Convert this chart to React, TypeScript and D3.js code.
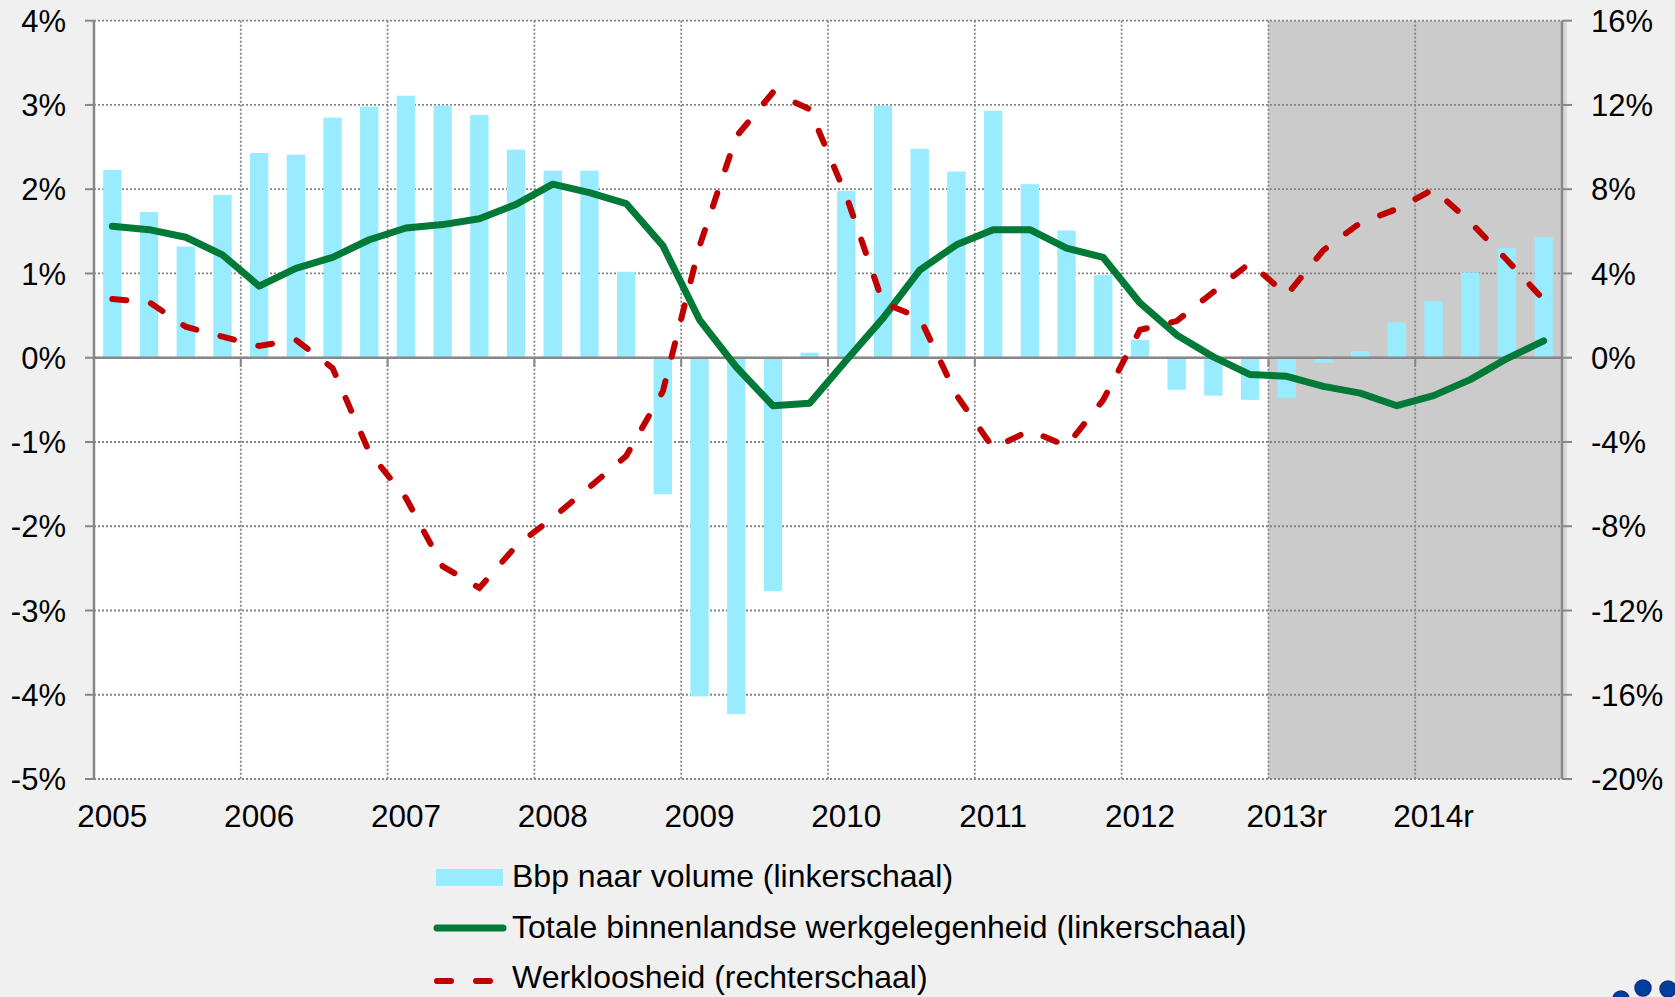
import React from "react";
import * as d3 from "d3";

const years = ["2005", "2006", "2007", "2008", "2009", "2010", "2011", "2012", "2013", "2014"];
const yearLabels = ["2005", "2006", "2007", "2008", "2009", "2010", "2011", "2012", "2013r", "2014r"];
const quarters = years.flatMap((y) => ["K1", "K2", "K3", "K4"].map((q) => `${y} ${q}`));

// Bbp naar volume (linkerschaal), % j-o-j
const bbp = [
  2.23, 1.73, 1.32, 1.93,
  2.43, 2.41, 2.85, 2.98,
  3.11, 2.99, 2.88, 2.47,
  2.22, 2.22, 1.02, -1.62,
  -4.02, -4.23, -2.77, 0.06,
  1.98, 2.99, 2.48, 2.21,
  2.93, 2.06, 1.51, 0.98,
  0.21, -0.38, -0.45, -0.5,
  -0.48, -0.06, 0.08, 0.42,
  0.67, 1.01, 1.3, 1.43,
];

// Totale binnenlandse werkgelegenheid (linkerschaal)
const werkgelegenheid = [
  1.56, 1.52, 1.43, 1.22,
  0.85, 1.06, 1.19, 1.4,
  1.54, 1.58, 1.65, 1.82,
  2.06, 1.96, 1.83, 1.33,
  0.45, -0.11, -0.57, -0.54,
  -0.03, 0.47, 1.04, 1.34,
  1.52, 1.52, 1.3, 1.19,
  0.65, 0.27, 0.01, -0.2,
  -0.22, -0.34, -0.42, -0.57,
  -0.45, -0.26, -0.01, 0.2,
];

// Werkloosheid (rechterschaal)
const werkloosheid = [
  2.79, 2.64, 1.47, 1.0,
  0.56, 0.85, -0.49, -4.48,
  -6.66, -9.9, -10.93, -8.94,
  -7.6, -6.14, -4.67, -1.6,
  5.3, 10.5, 12.6, 11.8,
  7.67, 2.6, 1.9, -1.77,
  -4.29, -3.46, -4.19, -2.0,
  1.32, 1.74, 3.12, 4.5,
  2.98, 5.11, 6.4, 7.06,
  8.0, 6.44, 4.64, 2.75,
];

const leftTicks = [-5, -4, -3, -2, -1, 0, 1, 2, 3, 4];
const rightTicks = [-20, -16, -12, -8, -4, 0, 4, 8, 12, 16];
const forecastYears = ["2013", "2014"];

const legendItems = [
  "Bbp naar volume (linkerschaal)",
  "Totale binnenlandse werkgelegenheid (linkerschaal)",
  "Werkloosheid (rechterschaal)",
];

const App = () => {
  const width = 1675;
  const height = 997;
  const plot = { left: 94, right: 1562, top: 20.7, bottom: 779 };
  const font = "'Liberation Sans', Arial, sans-serif";
  const gridColor = "#858585";
  const axisColor = "#878787";

  const x = d3.scaleBand().domain(quarters).range([plot.left, plot.right]).padding(0);
  const cx = (q) => x(q) + x.bandwidth() / 2;
  const yLeft = d3.scaleLinear().domain([-5, 4]).range([plot.bottom, plot.top]);
  const yRight = d3.scaleLinear().domain([-20, 16]).range([plot.bottom, plot.top]);

  const barWidth = x.bandwidth() * 0.5;
  const greenLine = d3
    .line()
    .x((d, i) => cx(quarters[i]))
    .y((d) => yLeft(d));
  const redLine = d3
    .line()
    .x((d, i) => cx(quarters[i]))
    .y((d) => yRight(d));

  const yearStart = (y) => x(`${y} K1`);
  const shadeStart = yearStart(forecastYears[0]);

  return (
    <svg
      width={width}
      height={height}
      style={{ position: "absolute", left: 0, top: 0 }}
      fontFamily={font}
    >
      <rect x={0} y={0} width={width} height={height} fill="#f0f0f0" />
      <rect
        x={plot.left}
        y={plot.top}
        width={plot.right - plot.left}
        height={plot.bottom - plot.top}
        fill="#ffffff"
      />
      {/* prognose periode */}
      <rect
        x={shadeStart}
        y={plot.top}
        width={plot.right - shadeStart}
        height={plot.bottom - plot.top}
        fill="#cbcbcb"
      />
      <rect x={plot.right} y={plot.top} width={5} height={plot.bottom - plot.top} fill="#d9d9d9" />

      {/* gridlines */}
      {leftTicks.map((t) => (
        <line
          key={`h${t}`}
          x1={plot.left}
          x2={plot.right}
          y1={yLeft(t)}
          y2={yLeft(t)}
          stroke={gridColor}
          strokeWidth={1.8}
          strokeDasharray="2 2"
        />
      ))}
      {years.slice(1).map((y) => (
        <line
          key={`v${y}`}
          x1={yearStart(y)}
          x2={yearStart(y)}
          y1={plot.top}
          y2={plot.bottom}
          stroke={gridColor}
          strokeWidth={1.8}
          strokeDasharray="2 2"
        />
      ))}

      {/* bars */}
      {bbp.map((v, i) => (
        <rect
          key={quarters[i]}
          x={cx(quarters[i]) - barWidth / 2}
          y={Math.min(yLeft(v), yLeft(0))}
          width={barWidth}
          height={Math.abs(yLeft(v) - yLeft(0))}
          fill="#99ebff"
        />
      ))}

      {/* category axis at 0 */}
      <line x1={plot.left} x2={plot.right} y1={yLeft(0)} y2={yLeft(0)} stroke={axisColor} strokeWidth={2.5} />
      {years.map((y) => (
        <line
          key={`t${y}`}
          x1={yearStart(y)}
          x2={yearStart(y)}
          y1={yLeft(0)}
          y2={yLeft(0) + 9}
          stroke={axisColor}
          strokeWidth={2}
        />
      ))}

      {/* left axis */}
      <line x1={plot.left} x2={plot.left} y1={plot.top} y2={plot.bottom} stroke={axisColor} strokeWidth={2.5} />
      {leftTicks.map((t) => (
        <g key={`l${t}`}>
          <line x1={plot.left - 9} x2={plot.left} y1={yLeft(t)} y2={yLeft(t)} stroke={axisColor} strokeWidth={2} />
          <text x={66} y={yLeft(t)} dy="0.36em" textAnchor="end" fontSize={31} fill="#000">
            {`${t}%`}
          </text>
        </g>
      ))}

      {/* right axis */}
      <line x1={plot.right} x2={plot.right} y1={plot.top} y2={plot.bottom} stroke={axisColor} strokeWidth={2.5} />
      {rightTicks.map((t) => (
        <g key={`r${t}`}>
          <line x1={plot.right} x2={plot.right + 10} y1={yRight(t)} y2={yRight(t)} stroke={axisColor} strokeWidth={2} />
          <text x={1591} y={yRight(t)} dy="0.36em" textAnchor="start" fontSize={31} fill="#000">
            {`${t}%`}
          </text>
        </g>
      ))}

      {/* year labels */}
      {years.map((y, i) => (
        <text key={`y${y}`} x={cx(`${y} K1`)} y={827} textAnchor="middle" fontSize={31.5} fill="#000">
          {yearLabels[i]}
        </text>
      ))}

      {/* lines */}
      <path
        d={greenLine(werkgelegenheid)}
        fill="none"
        stroke="#007a36"
        strokeWidth={7}
        strokeLinejoin="round"
        strokeLinecap="round"
      />
      <path
        d={redLine(werkloosheid)}
        fill="none"
        stroke="#c00000"
        strokeWidth={6}
        strokeDasharray="14 25"
        strokeLinecap="round"
      />

      {/* legend */}
      <g fontSize={32} fill="#000">
        <rect x={436} y={869} width={67} height={17} fill="#99ebff" />
        <text x={512} y={887}>{legendItems[0]}</text>
        <line x1={437} x2={503} y1={928} y2={928} stroke="#007a36" strokeWidth={7} strokeLinecap="round" />
        <text x={512} y={938}>{legendItems[1]}</text>
        <line
          x1={437}
          x2={497}
          y1={981}
          y2={981}
          stroke="#c00000"
          strokeWidth={6}
          strokeDasharray="14 25"
          strokeLinecap="round"
        />
        <text x={512} y={988}>{legendItems[2]}</text>
      </g>

      {/* logo fragment */}
      <g fill="#003f9c" stroke="#1b2a7a" strokeWidth={1.5}>
        <circle cx={1621} cy={999} r={8} />
        <circle cx={1643} cy={988} r={8} />
        <circle cx={1668} cy={989} r={8} />
      </g>
    </svg>
  );
};

export default App;
